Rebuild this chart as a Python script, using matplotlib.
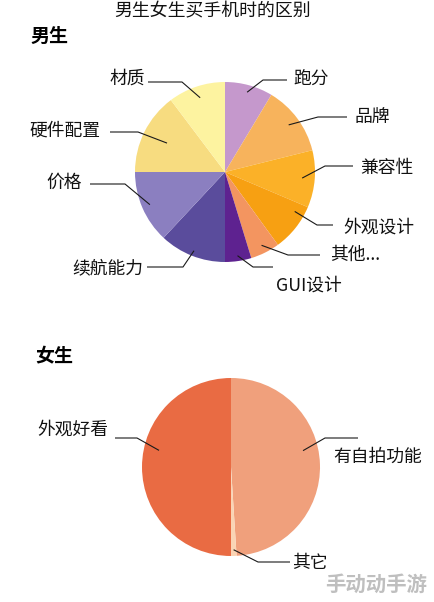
import matplotlib
matplotlib.use('Agg')
import matplotlib.pyplot as plt
import numpy as np

plt.rcParams['font.family'] = ['Noto Sans CJK SC', 'DejaVu Sans']

# ---------------- data ----------------
title = "男生女生买手机时的区别"
male_title = "男生"
female_title = "女生"
watermark = "手动动手游"

male_labels = ['跑分', '品牌', '兼容性', '外观设计', '其他...', 'GUI设计',
               '续航能力', '价格', '硬件配置', '材质']
male_values = [31, 45, 37, 31, 19, 17, 43, 47, 53, 37]
male_colors = ['#c598cc', '#f7b35c', '#fbb128', '#f7a012', '#f39560', '#5e2290',
               '#5a4c9c', '#8b7fc0', '#f7dc80', '#fdf3a0']

female_labels = ['有自拍功能', '其它', '外观好看']
female_values = [49, 1, 50]
female_colors = ['#f0a07c', '#fad4b4', '#e96b43']

# ---------------- layout ----------------
W, H = 434, 602
fig = plt.figure(figsize=(W / 100, H / 100), dpi=100)
ax = fig.add_axes([0, 0, 1, 1])


def fy(y):
    return H - y


male_center = (225, 172)
male_r = 90
female_center = (231, 467)
female_r = 89

mw, _ = ax.pie(male_values, colors=male_colors, startangle=90, counterclock=False,
               center=(male_center[0], fy(male_center[1])), radius=male_r,
               wedgeprops=dict(linewidth=0))
fw, _ = ax.pie(female_values, colors=female_colors, startangle=90, counterclock=False,
               center=(female_center[0], fy(female_center[1])), radius=female_r,
               wedgeprops=dict(linewidth=0))

ax.set_xlim(0, W)
ax.set_ylim(0, H)
ax.set_aspect('equal')
ax.axis('off')

# per-label leader layout: (frac of radius, angle offset deg, elbow(x,y), end(x,y), text(x,y), ha)
male_layout = [
    (0.92, 0, (263, 80), (287, 80), (293, 79), 'left'),
    (0.88, 0, (318, 117), (347, 117), (355, 118), 'left'),
    (0.86, 0, (325, 166), (353, 166), (360, 168), 'left'),
    (0.89, 9, (317, 225), (333, 225), (343, 228), 'left'),
    (0.91, 0, (288, 255), (320, 255), (330, 255), 'left'),
    (0.94, 0, (253, 267), (273, 267), (276, 286), 'left'),
    (0.94, 0, (183, 267), (147, 267), (143, 268), 'right'),
    (0.91, 0, (125, 184), (90, 184), (82, 183), 'right'),
    (0.72, 0, (138, 132), (110, 132), (100, 131), 'right'),
    (0.87, 0, (182, 82), (148, 82), (145, 79), 'right'),
]
female_layout = [
    (0.83, 11, (325, 438), (358, 438), (333, 457), 'left'),
    (0.93, 0, (258, 562), (290, 562), (292, 563), 'left'),
    (0.83, -13, (137, 438), (115, 438), (108, 430), 'right'),
]


def draw_leaders(wedges, labels, layout, center, r):
    cx, cy = center[0], fy(center[1])
    for w, lab, (frac, dth, elbow, end, txt, ha) in zip(wedges, labels, layout):
        th = np.deg2rad((w.theta1 + w.theta2) / 2 + dth)
        px, py = cx + frac * r * np.cos(th), cy + frac * r * np.sin(th)
        ax.plot([px, elbow[0], end[0]], [py, fy(elbow[1]), fy(end[1])],
                color='#1a1a1a', lw=0.8, solid_capstyle='butt', zorder=5)
        ax.text(txt[0], fy(txt[1]), lab, ha=ha, va='center', fontsize=12.8,
                color='#111111', zorder=6)


draw_leaders(mw, male_labels, male_layout, male_center, male_r)
draw_leaders(fw, female_labels, female_layout, female_center, female_r)

ax.text(213, fy(11), title, ha='center', va='center', fontsize=12.9, color='#111111')
ax.text(30, fy(36), male_title, ha='left', va='center', fontsize=13.7,
        fontweight='black', color='#000000')
ax.text(35, fy(357), female_title, ha='left', va='center', fontsize=13.7,
        fontweight='black', color='#000000')
ax.text(427, fy(584), watermark, ha='right', va='center', fontsize=14.7,
        fontweight='bold', color='#b8b8b8', alpha=0.9)

fig.savefig('out.png', dpi=100, facecolor='white')
